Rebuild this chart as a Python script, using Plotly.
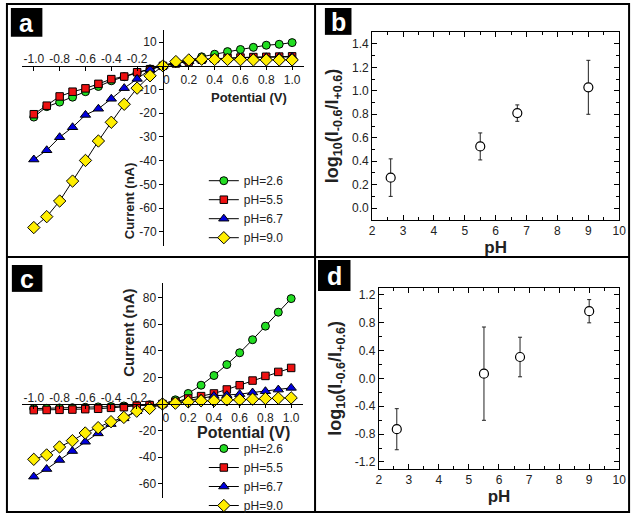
import plotly.graph_objects as go

W, H = 641, 520
FONT = "Arial, Liberation Sans, sans-serif"

# ---------------- data ----------------
potential = [-1.0, -0.9, -0.8, -0.7, -0.6, -0.5, -0.4, -0.3, -0.2, -0.1, 0.0,
             0.1, 0.2, 0.3, 0.4, 0.5, 0.6, 0.7, 0.8, 0.9, 1.0]
series_names = ["pH=2.6", "pH=5.5", "pH=6.7", "pH=9.0"]

# panel a currents (nA)
a_ph26 = [-21.6, -17.2, -15.3, -13.2, -10.9, -8.7, -6.3, -4.6, -2.8, -1.3, 0.0,
          1.4, 2.2, 3.8, 4.9, 6.0, 6.9, 7.8, 8.7, 9.1, 9.8]
a_ph55 = [-20.4, -16.8, -12.9, -10.9, -9.5, -7.6, -5.6, -4.5, -2.7, -1.4, 0.0,
          1.0, 1.8, 2.6, 3.0, 3.3, 3.5, 3.7, 3.8, 3.9, 4.0]
a_ph67 = [-39.5, -35.6, -30.1, -25.9, -20.7, -18.1, -13.9, -9.4, -5.5, -1.5, 0.0,
          1.0, 2.0, 2.6, 3.0, 3.2, 3.4, 3.5, 3.6, 3.7, 3.8]
a_ph90 = [-68.2, -63.6, -57.0, -48.6, -39.9, -31.7, -23.8, -16.2, -9.4, -4.2, 0.0,
          1.8, 2.5, 2.8, 2.7, 2.7, 2.6, 2.5, 2.5, 2.5, 2.5]

# panel c currents (nA)
c_ph26 = [-3.5, -3.3, -3.0, -2.8, -2.5, -2.2, -1.9, -1.5, -1.1, -0.6, 0.0,
          3.1, 7.9, 14.1, 21.4, 29.6, 38.5, 48.3, 58.5, 69.0, 79.2]
c_ph55 = [-4.6, -4.5, -4.4, -4.2, -3.9, -3.6, -2.9, -2.4, -1.4, -0.8, 0.0,
          1.6, 4.1, 5.9, 7.9, 10.9, 14.1, 17.6, 21.1, 24.1, 27.1]
c_ph67 = [-54.6, -48.9, -42.1, -35.4, -28.4, -22.1, -15.1, -10.8, -5.4, -1.8, 0.0,
          1.4, 2.9, 4.1, 6.1, 6.6, 7.4, 8.6, 9.6, 10.8, 12.1]
c_ph90 = [-41.6, -38.3, -32.3, -27.6, -21.8, -17.8, -13.3, -10.1, -5.4, -3.3, 0.0,
          0.6, 1.6, 2.4, 2.4, 3.1, 3.1, 3.6, 4.1, 4.4, 4.6]

# panels b and d
ph = [2.6, 5.5, 6.7, 9.0]
b_ratio = [0.26, 0.526, 0.81, 1.03]
b_err = [0.16, 0.115, 0.07, 0.23]
d_ratio = [-0.73, 0.068, 0.307, 0.965]
d_err = [0.295, 0.67, 0.284, 0.167]

# tick labels
x_neg_vals = [-1.0, -0.8, -0.6, -0.4, -0.2]
x_neg_text = ["-1.0", "-0.8", "-0.6", "-0.4", "-0.2"]
x_pos_vals = [0.0, 0.2, 0.4, 0.6, 0.8, 1.0]
x_pos_text = ["\u00a0\u00a00", "0.2", "0.4", "0.6", "0.8", "1.0"]
ya_vals = [10, -10, -20, -30, -40, -50, -60, -70]
ya_text = ["10", "-10", "-20", "-30", "-40", "-50", "-60", "-70"]
yc_vals = [80, 60, 40, 20, -20, -40, -60]
yc_text = ["80", "60", "40", "20", "-20", "-40", "-60"]
yb_vals = [0.0, 0.2, 0.4, 0.6, 0.8, 1.0, 1.2, 1.4]
yb_text = ["0.0", "0.2", "0.4", "0.6", "0.8", "1.0", "1.2", "1.4"]
yd_vals = [-1.2, -0.8, -0.4, 0.0, 0.4, 0.8, 1.2]
yd_text = ["-1.2", "-0.8", "-0.4", "0.0", "0.4", "0.8", "1.2"]
ph_ticks = [2, 3, 4, 5, 6, 7, 8, 9, 10]

colors = ["#22dd22", "#ee1111", "#0000dd", "#ffee00"]
symbols = ["circle", "square", "triangle-up", "diamond"]
sizes = [8, 7.5, 9, 9.5]


def fx(px):
    return px / W


def fy(py):
    return 1 - py / H


fig = go.Figure()

# ---------------- panel a ----------------
for name, vals, col, sym, sz in zip(series_names, [a_ph26, a_ph55, a_ph67, a_ph90],
                                    colors, symbols, sizes):
    fig.add_trace(go.Scatter(
        x=potential, y=vals, name=name, mode="lines+markers", xaxis="x", yaxis="y",
        line=dict(color="black", width=1),
        marker=dict(symbol=sym, size=sz, color=col, line=dict(color="black", width=1)),
        legend="legend"))
fig.add_trace(go.Scatter(x=potential, y=a_ph26, xaxis="x2", yaxis="y", mode="markers",
                         opacity=0, showlegend=False, hoverinfo="skip"))

# ---------------- panel c ----------------
for name, vals, col, sym, sz in zip(series_names, [c_ph26, c_ph55, c_ph67, c_ph90],
                                    colors, symbols, sizes):
    fig.add_trace(go.Scatter(
        x=potential, y=vals, name=name, mode="lines+markers", xaxis="x3", yaxis="y3",
        line=dict(color="black", width=1),
        marker=dict(symbol=sym, size=sz, color=col, line=dict(color="black", width=1)),
        legend="legend2"))
fig.add_trace(go.Scatter(x=potential, y=c_ph26, xaxis="x4", yaxis="y3", mode="markers",
                         opacity=0, showlegend=False, hoverinfo="skip"))

# ---------------- panels b, d ----------------
for xa, ya, vals, errs in [("x5", "y5", b_ratio, b_err), ("x6", "y6", d_ratio, d_err)]:
    fig.add_trace(go.Scatter(
        x=ph, y=vals, xaxis=xa, yaxis=ya, mode="markers", showlegend=False,
        marker=dict(symbol="circle", size=9, color="white", line=dict(color="black", width=1.2)),
        error_y=dict(type="data", array=errs, visible=True, color="#222222",
                     thickness=1, width=2)))

# ---------------- axes geometry ----------------
xa_range = [-1.09, 1.09]
xa_dom = [fx(19.5), fx(305.5)]
ya_range = [-76, 15]
ya_dom = [fy(247), fy(30.4)]
xc_range = [-1.09, 1.09]
xc_dom = [fx(19.5), fx(304.5)]
yc_range = [-70.5, 91]
yc_dom = [fy(499.7), fy(284)]


def zero_pos(rng, dom):
    return dom[0] + (0 - rng[0]) / (rng[1] - rng[0]) * (dom[1] - dom[0])


tickfont = dict(family=FONT, size=12, color="#222222")
common = dict(showgrid=False, zeroline=False, showline=True, linecolor="black",
              linewidth=1, tickcolor="black", tickfont=tickfont)

layout_axes = dict(
    xaxis=dict(domain=xa_dom, range=xa_range, anchor="free", position=zero_pos(ya_range, ya_dom),
               side="bottom", tickmode="array", tickvals=x_pos_vals, ticktext=x_pos_text,
               ticks="outside", ticklen=3, **common),
    xaxis2=dict(range=xa_range, overlaying="x", anchor="free", position=zero_pos(ya_range, ya_dom),
                side="top", tickmode="array", tickvals=x_neg_vals, ticktext=x_neg_text,
                ticks="inside", ticklen=4, showgrid=False, zeroline=False, showline=False,
                tickcolor="black", tickfont=tickfont),
    yaxis=dict(domain=ya_dom, range=ya_range, anchor="free", position=zero_pos(xa_range, xa_dom),
               side="left", tickmode="array", tickvals=ya_vals, ticktext=ya_text,
               ticks="outside", ticklen=4, **common),
    xaxis3=dict(domain=xc_dom, range=xc_range, anchor="free", position=zero_pos(yc_range, yc_dom),
                side="bottom", tickmode="array", tickvals=x_pos_vals, ticktext=x_pos_text,
                ticks="outside", ticklen=3, **common),
    xaxis4=dict(range=xc_range, overlaying="x3", anchor="free", position=zero_pos(yc_range, yc_dom),
                side="top", tickmode="array", tickvals=x_neg_vals, ticktext=x_neg_text,
                ticks="inside", ticklen=4, showgrid=False, zeroline=False, showline=False,
                tickcolor="black", tickfont=tickfont),
    yaxis3=dict(domain=yc_dom, range=yc_range, anchor="free", position=zero_pos(xc_range, xc_dom),
                side="left", tickmode="array", tickvals=yc_vals, ticktext=yc_text,
                ticks="outside", ticklen=4, **common),
)

boxcommon = dict(showgrid=False, zeroline=False, showline=True, linecolor="black", linewidth=1,
                 mirror="ticks", ticks="inside", ticklen=5, tickcolor="black",
                 tickfont=dict(family=FONT, size=12, color="#222222"))
ytitle = "<b>log<sub>10</sub>(I<sub>-0.6</sub>/I<sub>+0.6</sub>)</b>"

layout_axes.update(
    xaxis5=dict(domain=[fx(375), fx(626)], range=[2, 10], anchor="y5", tickmode="array",
                tickvals=ph_ticks, ticktext=[str(v) for v in ph_ticks],
                minor=dict(ticks="inside", ticklen=3, dtick=0.5, tick0=0, tickcolor="black"),
                title=dict(text="<b>pH</b>", font=dict(family=FONT, size=17, color="#222222"),
                           standoff=0), **boxcommon),
    yaxis5=dict(domain=[fy(220.7), fy(32.3)], range=[-0.1, 1.5], anchor="x5", tickmode="array",
                tickvals=yb_vals, ticktext=yb_text,
                minor=dict(ticks="inside", ticklen=3, dtick=0.1, tick0=0, tickcolor="black"),
                title=dict(text=ytitle, font=dict(family=FONT, size=18, color="#222222"),
                           standoff=8), **boxcommon),
    xaxis6=dict(domain=[fx(381.7), fx(626)], range=[2, 10], anchor="y6", tickmode="array",
                tickvals=ph_ticks, ticktext=[str(v) for v in ph_ticks],
                minor=dict(ticks="inside", ticklen=3, dtick=0.5, tick0=0, tickcolor="black"),
                title=dict(text="<b>pH</b>", font=dict(family=FONT, size=17, color="#222222"),
                           standoff=0), **boxcommon),
    yaxis6=dict(domain=[fy(470.7), fy(289)], range=[-1.3, 1.3], anchor="x6", tickmode="array",
                tickvals=yd_vals, ticktext=yd_text,
                minor=dict(ticks="inside", ticklen=3, dtick=0.2, tick0=0, tickcolor="black"),
                title=dict(text=ytitle, font=dict(family=FONT, size=18, color="#222222"),
                           standoff=8), **boxcommon),
)

# ---------------- decorations ----------------
shapes = [
    dict(type="rect", xref="paper", yref="paper", x0=fx(4), x1=fx(636), y0=fy(514), y1=fy(4),
         line=dict(color="black", width=2)),
    dict(type="line", xref="paper", yref="paper", x0=fx(317), x1=fx(317), y0=fy(514), y1=fy(4),
         line=dict(color="black", width=2)),
    dict(type="line", xref="paper", yref="paper", x0=fx(4), x1=fx(636), y0=fy(258), y1=fy(258),
         line=dict(color="black", width=2)),
]
label_boxes = [("a", 8, 40, 8, 37), ("b", 327, 354, 8, 35), ("c", 9, 40, 266, 293),
               ("d", 320, 353, 261, 292)]
annotations = []
for letter, x0, x1, y0, y1 in label_boxes:
    shapes.append(dict(type="rect", xref="paper", yref="paper", x0=fx(x0), x1=fx(x1),
                       y0=fy(y1), y1=fy(y0), fillcolor="black", line=dict(width=0)))
    annotations.append(dict(text="<b>%s</b>" % letter, xref="paper", yref="paper",
                            x=fx((x0 + x1) / 2), y=fy((y0 + y1) / 2 + 1), showarrow=False,
                            font=dict(family=FONT, size=25, color="white"),
                            xanchor="center", yanchor="middle"))

title_specs = [("<b>Potential (V)</b>", 250, 98, 13, 0),
               ("<b>Current (nA)</b>", 128, 202, 13, -90),
               ("<b>Potential (V)</b>", 244, 434, 16, 0),
               ("<b>Current (nA)</b>", 128, 334, 15, -90)]
for txt, px, py, fs, ang in title_specs:
    annotations.append(dict(text=txt, xref="paper", yref="paper", x=fx(px), y=fy(py),
                            showarrow=False, textangle=ang, xanchor="center", yanchor="middle",
                            font=dict(family=FONT, size=fs, color="#222222")))

legend_common = dict(xanchor="left", yanchor="middle", bgcolor="rgba(0,0,0,0)",
                     font=dict(family=FONT, size=12, color="#222222"), tracegroupgap=0,
                     itemwidth=30)

fig.update_layout(
    width=W, height=H, margin=dict(l=0, r=0, t=0, b=0),
    paper_bgcolor="white", plot_bgcolor="rgba(0,0,0,0)",
    font=dict(family=FONT, color="#222222"),
    shapes=shapes, annotations=annotations,
    legend=dict(x=fx(204), y=fy(210), **legend_common),
    legend2=dict(x=fx(204), y=fy(479), **legend_common),
    **layout_axes,
)

fig.write_html("out.html", config={"displayModeBar": False},
               post_script="document.body.style.margin='0';document.body.style.overflow='hidden';")
